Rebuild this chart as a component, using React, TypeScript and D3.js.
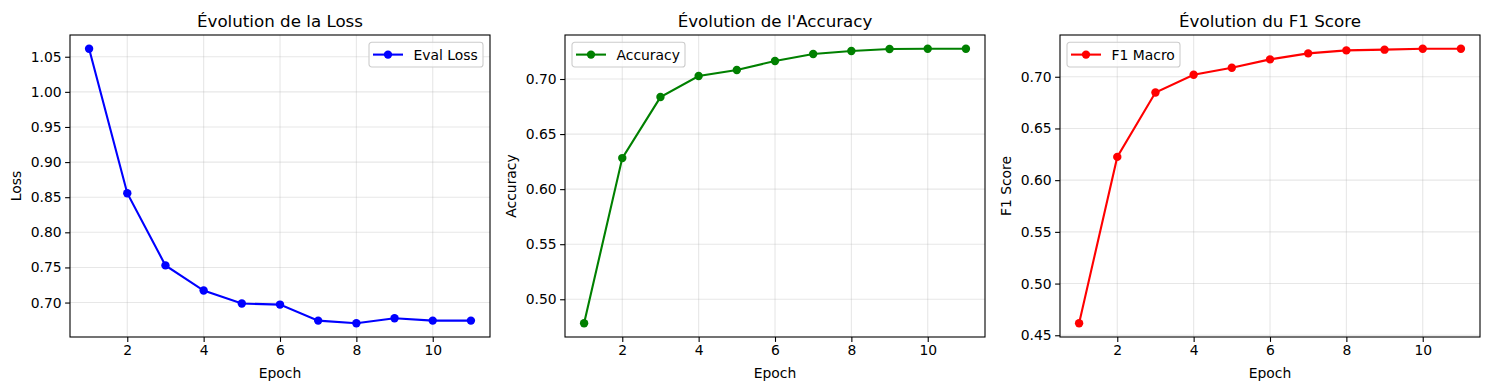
import React, { useEffect, useRef } from 'react';
import * as d3 from 'd3';

// values
const epochs = [1, 2, 3, 4, 5, 6, 7, 8, 9, 10, 11];
const evalLoss = [1.0614, 0.8557, 0.7529, 0.7171, 0.6986, 0.6971, 0.6743, 0.6705, 0.6776, 0.6743, 0.6743];
const accuracy = [0.4782, 0.6282, 0.6836, 0.7027, 0.7082, 0.7164, 0.7227, 0.7255, 0.7273, 0.7275, 0.7275];
const f1Macro = [0.4616, 0.6225, 0.6848, 0.7019, 0.7087, 0.7168, 0.7226, 0.7255, 0.7262, 0.7271, 0.7271];
const xTicks = [2, 4, 6, 8, 10];
const lossTicks = [0.7, 0.75, 0.8, 0.85, 0.9, 0.95, 1.0, 1.05];
const accTicks = [0.5, 0.55, 0.6, 0.65, 0.7];
const f1Ticks = [0.45, 0.5, 0.55, 0.6, 0.65, 0.7];

interface Panel {
  title: string;
  ylabel: string;
  legend: string;
  color: string;
  values: number[];
  yTicks: number[];
  legendRight: boolean;
}

const panels: Panel[] = [
  { title: 'Évolution de la Loss', ylabel: 'Loss', legend: 'Eval Loss', color: '#0000ff', values: evalLoss, yTicks: lossTicks, legendRight: true },
  { title: "Évolution de l'Accuracy", ylabel: 'Accuracy', legend: 'Accuracy', color: '#008000', values: accuracy, yTicks: accTicks, legendRight: false },
  { title: 'Évolution du F1 Score', ylabel: 'F1 Score', legend: 'F1 Macro', color: '#ff0000', values: f1Macro, yTicks: f1Ticks, legendRight: false },
];

const W = 1490;
const H = 390;
const lefts = [70, 565, 1060];
const top = 35;
const pw = 420;
const ph = 302;
const font = 'DejaVu Sans, sans-serif';

// matplotlib style 5% margins
const pad = (ext: [number, number]): [number, number] => {
  const r = ext[1] - ext[0];
  return [ext[0] - r * 0.05, ext[1] + r * 0.05];
};

const App: React.FC = () => {
  const ref = useRef<SVGSVGElement>(null);

  useEffect(() => {
    const svg = d3.select(ref.current);
    svg.selectAll('*').remove();

    panels.forEach((p, i) => {
      const g = svg.append('g').attr('transform', `translate(${lefts[i]},${top})`);

      const x = d3.scaleLinear().domain(pad(d3.extent(epochs) as [number, number])).range([0, pw]);
      const y = d3.scaleLinear().domain(pad(d3.extent(p.values) as [number, number])).range([ph, 0]);

      // grid
      g.append('g')
        .selectAll('line.vx')
        .data(xTicks)
        .join('line')
        .attr('x1', (d) => x(d)).attr('x2', (d) => x(d))
        .attr('y1', 0).attr('y2', ph)
        .attr('stroke', '#b0b0b0').attr('stroke-opacity', 0.3).attr('stroke-width', 1.1);
      g.append('g')
        .selectAll('line.hy')
        .data(p.yTicks)
        .join('line')
        .attr('x1', 0).attr('x2', pw)
        .attr('y1', (d) => y(d)).attr('y2', (d) => y(d))
        .attr('stroke', '#b0b0b0').attr('stroke-opacity', 0.3).attr('stroke-width', 1.1);

      // axes
      const xAxis = g.append('g')
        .attr('transform', `translate(0,${ph})`)
        .call(d3.axisBottom(x).tickValues(xTicks).tickSize(4.9).tickPadding(3.5).tickFormat(d3.format('d')));
      const yAxis = g.append('g')
        .call(d3.axisLeft(y).tickValues(p.yTicks).tickSize(4.9).tickPadding(3.5).tickFormat(d3.format('.2f')));
      [xAxis, yAxis].forEach((a) => {
        a.select('.domain').remove();
        a.selectAll('line').attr('stroke', '#000').attr('stroke-width', 1.1);
        a.selectAll('text').attr('fill', '#000').style('font-family', font).style('font-size', '13.9px');
      });

      g.append('rect')
        .attr('width', pw).attr('height', ph)
        .attr('fill', 'none').attr('stroke', '#000').attr('stroke-width', 1.1);

      // line + markers
      const line = d3.line<number>()
        .x((_, k) => x(epochs[k]))
        .y((d) => y(d));
      g.append('path')
        .datum(p.values)
        .attr('fill', 'none')
        .attr('stroke', p.color)
        .attr('stroke-width', 2.1)
        .attr('d', line);
      g.append('g')
        .selectAll('circle')
        .data(p.values)
        .join('circle')
        .attr('cx', (_, k) => x(epochs[k]))
        .attr('cy', (d) => y(d))
        .attr('r', 4.2)
        .attr('fill', p.color);

      // titles and labels
      g.append('text')
        .attr('x', pw / 2).attr('y', -8.5)
        .attr('text-anchor', 'middle')
        .style('font-family', font).style('font-size', '16.7px')
        .text(p.title);
      g.append('text')
        .attr('x', pw / 2).attr('y', ph + 40.5)
        .attr('text-anchor', 'middle')
        .style('font-family', font).style('font-size', '13.9px')
        .text('Epoch');
      g.append('text')
        .attr('transform', `translate(-54,${ph / 2}) rotate(-90)`)
        .attr('text-anchor', 'middle')
        .attr('dominant-baseline', 'central')
        .style('font-family', font).style('font-size', '13.9px')
        .text(p.ylabel);

      // legend
      const lw = i === 0 ? 114 : 113;
      const lx = p.legendRight ? pw - 7 - lw : 7;
      const lg = g.append('g').attr('transform', `translate(${lx},7.3)`);
      lg.append('rect')
        .attr('width', lw).attr('height', 24.7)
        .attr('rx', 2.8)
        .attr('fill', '#fff').attr('fill-opacity', 0.8)
        .attr('stroke', '#cccccc').attr('stroke-width', 1.1);
      lg.append('line')
        .attr('x1', 4).attr('x2', 34)
        .attr('y1', 12.3).attr('y2', 12.3)
        .attr('stroke', p.color).attr('stroke-width', 2.1);
      lg.append('circle').attr('cx', 19).attr('cy', 12.3).attr('r', 4.2).attr('fill', p.color);
      lg.append('text')
        .attr('x', 44.5).attr('y', 12.3)
        .attr('dominant-baseline', 'central')
        .style('font-family', font).style('font-size', '13.9px')
        .text(p.legend);
    });
  }, []);

  return (
    <svg
      ref={ref}
      width={W}
      height={H}
      style={{ position: 'absolute', left: 0, top: 0, background: '#fff' }}
    />
  );
};

export default App;
